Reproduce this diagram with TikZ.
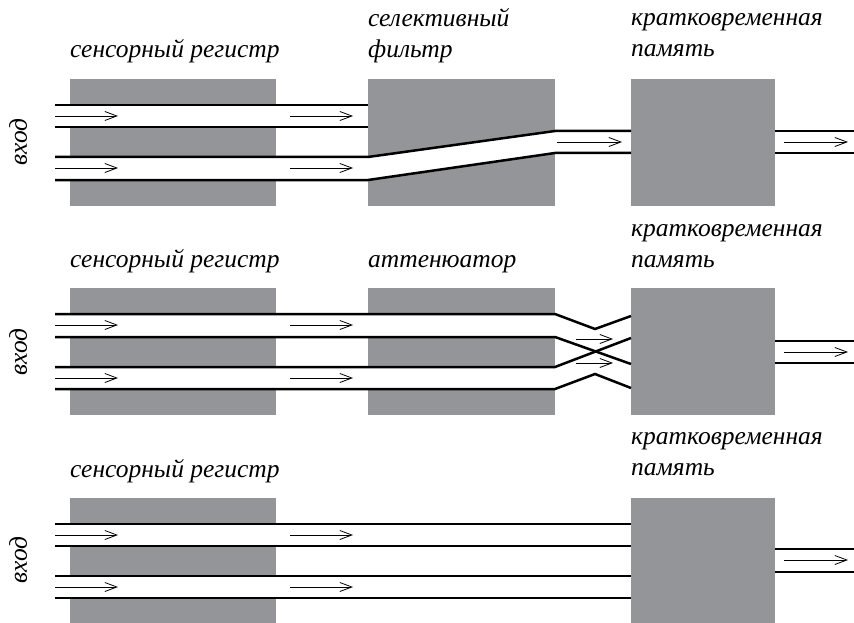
\documentclass[tikz,border=0pt]{standalone}
\usepackage{fontspec}
\setmainfont{Liberation Serif}
\usetikzlibrary{arrows.meta,positioning}
\definecolor{boxgray}{RGB}{147,149,152}

\begin{document}
\begin{tikzpicture}[x=1pt,y=-1pt,
  font=\fontsize{25.5}{31}\selectfont\itshape,
  box/.style={fill=boxgray,draw=none,inner sep=0pt,outer sep=0pt,anchor=north west},
  sens/.style={box,minimum width=206pt,minimum height=127pt},
  mid/.style={box,minimum width=187pt,minimum height=127pt},
  stm/.style={box,minimum width=144pt,minimum height=127pt},
  lbl/.style={anchor=base west,inner sep=0pt,align=left},
  inp/.style={rotate=90,anchor=base,inner sep=0pt},
  chan/.style={line width=2.5pt},
  flow/.style={line width=.8pt,-{Straight Barb[length=12pt,width=9pt,line width=.8pt]}}
]
\useasboundingbox (0,0) rectangle (854,623);

% panel 1: selective filter
\node[sens] (sr1) at (70,79) {};
\node[mid] (flt) at (368,79) {};
\node[stm] (stm1) at (631,79) {};
\node[lbl] (sr1l) at (70,58) {сенсорный регистр};
\node[lbl] (fltl) at (368,58) {селективный\\фильтр};
\node[lbl] (stm1l) at (631,57) {кратковременная\\память};
\node[inp] (in1) at (27,142) {вход};
\fill[white] (55,105) rectangle (368,127);
\fill[white] (55,157) -- (368,157) -- (555,131) -- (555,153) -- (368,180) -- (55,180) -- cycle;
\draw[chan] (55,105) -- (368,105) (55,127) -- (368,127);
\draw[chan] (55,157) -- (368,157) -- (555,131) -- (631,131);
\draw[chan] (55,180) -- (368,180) -- (555,153) -- (631,153);
\draw[chan] (775,131) -- (854,131) (775,153) -- (854,153);
\foreach \y in {116,168}{
  \draw[flow] (55,\y) -- (118,\y);
  \draw[flow] (290,\y) -- (353,\y);
}
\draw[flow] (557,142) -- (622,142);
\draw[flow] (784,142) -- (848,142);

% panel 2: attenuator
\node[sens] (sr2) at (70,288) {};
\node[mid] (att) at (368,288) {};
\node[stm] (stm2) at (631,288) {};
\node[lbl] (sr2l) at (70,267) {сенсорный регистр};
\node[lbl] (attl) at (368,267) {аттенюатор};
\node[lbl] (stm2l) at (631,267) {кратковременная\\память};
\node[inp] (in2) at (27,352) {вход};
\fill[white] (55,314) rectangle (555,337);
\fill[white] (55,367) rectangle (555,389);
\draw[chan] (55,314) -- (555,314) -- (595,329) -- (631,316);
\draw[chan] (55,337) -- (555,337) -- (631,364);
\draw[chan] (55,367) -- (555,367) -- (631,338);
\draw[chan] (55,389) -- (555,389) -- (595,374) -- (631,388);
\draw[chan] (775,341) -- (854,341) (775,363) -- (854,363);
\foreach \y in {325,378}{
  \draw[flow] (55,\y) -- (118,\y);
  \draw[flow] (290,\y) -- (353,\y);
}
\draw[flow] (576,339) -- (613,339);
\draw[flow] (576,363) -- (613,363);
\draw[flow] (784,352) -- (848,352);

% panel 3: no filter
\node[sens] (sr3) at (70,498) {};
\node[stm] (stm3) at (631,498) {};
\node[lbl] (sr3l) at (70,477) {сенсорный регистр};
\node[lbl] (stm3l) at (631,475) {кратковременная\\память};
\node[inp] (in3) at (27,560) {вход};
\fill[white] (55,524) rectangle (631,546);
\fill[white] (55,576) rectangle (631,598);
\foreach \y in {524,546,576,598}
  \draw[chan] (55,\y) -- (631,\y);
\draw[chan] (775,549) -- (854,549) (775,572) -- (854,572);
\foreach \y in {535,587}{
  \draw[flow] (55,\y) -- (118,\y);
  \draw[flow] (290,\y) -- (353,\y);
}
\draw[flow] (784,560) -- (848,560);
\end{tikzpicture}
\end{document}
